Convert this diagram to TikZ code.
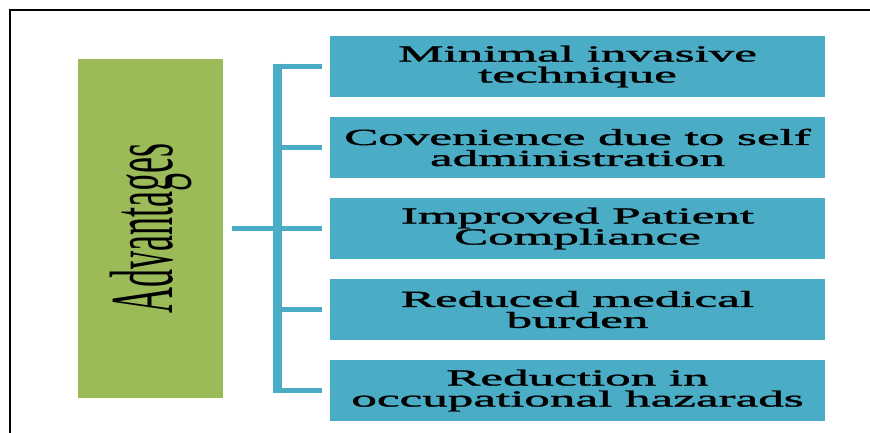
\documentclass[tikz,border=0pt]{standalone}
\usepackage{fontspec}
\setmainfont{Liberation Serif}
\newfontfamily\boxfont{Liberation Serif}[FakeBold=1.2]
\usepackage{graphicx}
\definecolor{boxblue}{HTML}{4BACC6}
\definecolor{boxgreen}{HTML}{9BBB59}
\newcommand{\wide}[1]{\scalebox{2.22}[1]{#1}}

\begin{document}
\begin{tikzpicture} [x=1pt, y=-1pt,
                     item/.style={fill=boxblue, minimum width=495pt, minimum height=61pt, inner sep=0pt,
                                  align=center, font=\boxfont\fontsize{23}{21}\selectfont},
                     branch/.style={boxblue, line width=5pt, shorten >=8pt},
                     spine/.style={boxblue, line width=9pt, shorten <=-2.5pt, shorten >=-2.5pt}]
    \useasboundingbox (0,0) rectangle (870,433);
    \draw[line width=2pt] (10,433) -- (10,10) -- (870,10);
    \node[fill=boxgreen, minimum width=145pt, minimum height=338pt, inner sep=0pt] (adv) at (150.5,228.5) {};
    \node[rotate=90, font=\fontsize{36}{36}\selectfont] (advlabel) at (adv.center) {\scalebox{1}[2.5]{Advantages}};
    \node[item] (b1) at (577.5,66.5) {\wide{Minimal invasive}\\\wide{technique}};
    \node[item] (b2) at (577.5,147.5) {\wide{Covenience due to self}\\\wide{administration}};
    \node[item] (b3) at (577.5,228.5) {\wide{Improved Patient}\\\wide{Compliance}};
    \node[item] (b4) at (577.5,309.5) {\wide{Reduced medical}\\\wide{burden}};
    \node[item] (b5) at (577.5,390.5) {\wide{Reduction in}\\\wide{occupational hazarads}};
    \coordinate (hub) at (277,228.5);
    \draw[spine] (hub |- b1.west) -- (hub |- b5.west);
    \draw[branch] (hub |- b1.west) -- (b1.west);
    \draw[branch] (hub |- b2.west) -- (b2.west);
    \draw[branch] (hub |- b3.west) -- (b3.west);
    \draw[branch] (hub |- b4.west) -- (b4.west);
    \draw[branch] (hub |- b5.west) -- (b5.west);
    \draw[branch, shorten <=9pt, shorten >=0pt] (adv.east) -- (hub);
\end{tikzpicture}
\end{document}
